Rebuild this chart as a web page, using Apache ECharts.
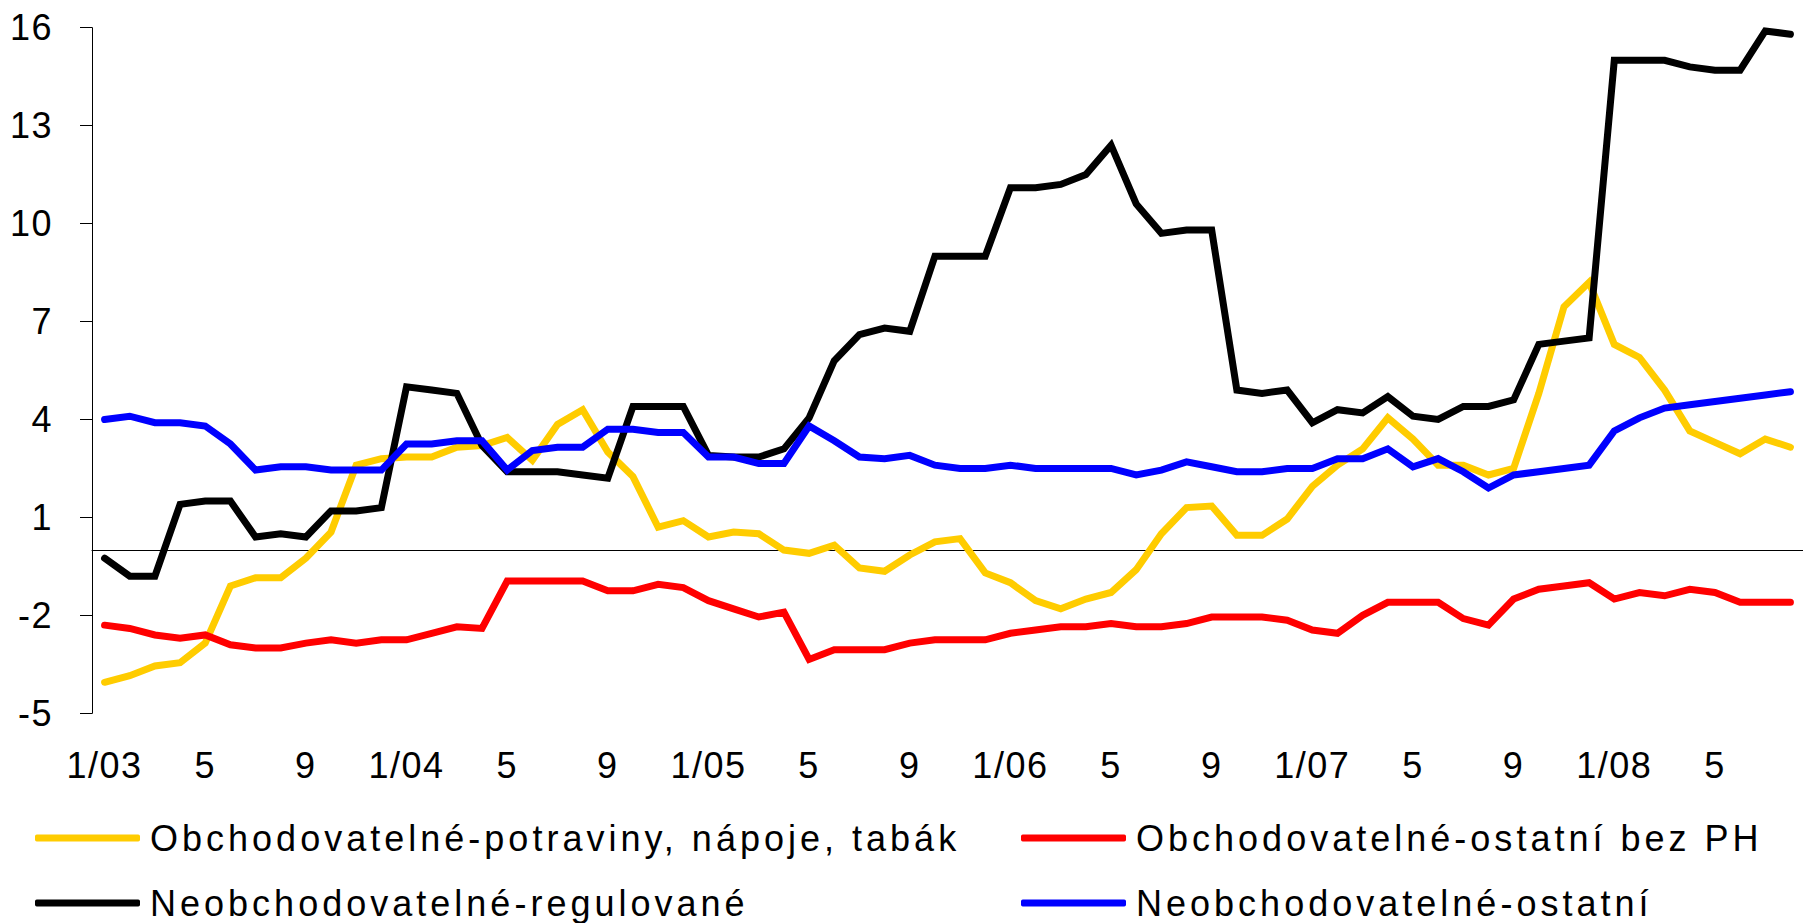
<!DOCTYPE html>
<html>
<head>
<meta charset="utf-8">
<script src="https://cdn.jsdelivr.net/npm/echarts@6/dist/echarts.min.js"></script>
<style id="dyn"></style>
<style>
html,body{margin:0;padding:0;background:#fff;}
#chart{width:1803px;height:923px;}
</style>
</head>
<body>
<div id="chart"></div>
<script>
const categories = [
"1/03","2/03","3/03","4/03","5/03","6/03","7/03","8/03","9/03","10/03","11/03","12/03",
"1/04","2/04","3/04","4/04","5/04","6/04","7/04","8/04","9/04","10/04","11/04","12/04",
"1/05","2/05","3/05","4/05","5/05","6/05","7/05","8/05","9/05","10/05","11/05","12/05",
"1/06","2/06","3/06","4/06","5/06","6/06","7/06","8/06","9/06","10/06","11/06","12/06",
"1/07","2/07","3/07","4/07","5/07","6/07","7/07","8/07","9/07","10/07","11/07","12/07",
"1/08","2/08","3/08","4/08","5/08","6/08","7/08","8/08"];

const seriesNames = [
"Obchodovatelné-potraviny, nápoje, tabák",
"Obchodovatelné-ostatní bez PH",
"Neobchodovatelné-regulované",
"Neobchodovatelné-ostatní"];

const potraviny = [
-4.05,-3.85,-3.55,-3.45,-2.85,-1.1,-0.85,-0.85,-0.25,0.55,2.6,2.8,
2.85,2.85,3.15,3.2,3.45,2.75,3.85,4.3,3.0,2.25,0.7,0.9,
0.4,0.55,0.5,0.0,-0.1,0.15,-0.55,-0.65,-0.15,0.25,0.35,-0.7,
-1.0,-1.55,-1.8,-1.5,-1.3,-0.6,0.5,1.3,1.35,0.45,0.45,0.95,
1.95,2.6,3.1,4.05,3.4,2.6,2.6,2.3,2.5,4.8,7.45,8.2,
6.3,5.9,4.9,3.65,3.3,2.95,3.4,3.15];

const ostatniBezPH = [
-2.3,-2.4,-2.6,-2.7,-2.6,-2.9,-3.0,-3.0,-2.85,-2.75,-2.85,-2.75,
-2.75,-2.55,-2.35,-2.4,-0.95,-0.95,-0.95,-0.95,-1.25,-1.25,-1.05,-1.15,
-1.55,-1.8,-2.05,-1.9,-3.35,-3.05,-3.05,-3.05,-2.85,-2.75,-2.75,-2.75,
-2.55,-2.45,-2.35,-2.35,-2.25,-2.35,-2.35,-2.25,-2.05,-2.05,-2.05,-2.15,
-2.45,-2.55,-2.0,-1.6,-1.6,-1.6,-2.1,-2.3,-1.5,-1.2,-1.1,-1.0,
-1.5,-1.3,-1.4,-1.2,-1.3,-1.6,-1.6,-1.6];

const regulovane = [
-0.25,-0.8,-0.8,1.4,1.5,1.5,0.4,0.5,0.4,1.2,1.2,1.3,
5.0,4.9,4.8,3.2,2.4,2.4,2.4,2.3,2.2,4.4,4.4,4.4,
2.9,2.85,2.85,3.1,4.05,5.8,6.6,6.8,6.7,9.0,9.0,9.0,
11.1,11.1,11.2,11.5,12.4,10.6,9.7,9.8,9.8,4.9,4.8,4.9,
3.9,4.3,4.2,4.7,4.1,4.0,4.4,4.4,4.6,6.3,6.4,6.5,
15.0,15.0,15.0,14.8,14.7,14.7,15.9,15.8];

const neobOstatni = [
4.0,4.1,3.9,3.9,3.8,3.25,2.45,2.55,2.55,2.45,2.45,2.45,
3.25,3.25,3.35,3.35,2.45,3.05,3.15,3.15,3.7,3.7,3.6,3.6,
2.85,2.85,2.65,2.65,3.8,3.35,2.85,2.8,2.9,2.6,2.5,2.5,
2.6,2.5,2.5,2.5,2.5,2.3,2.45,2.7,2.55,2.4,2.4,2.5,
2.5,2.8,2.8,3.1,2.55,2.8,2.4,1.9,2.3,2.4,2.5,2.6,
3.65,4.05,4.35,4.45,4.55,4.65,4.75,4.85];

const colors = ["#FFCC00", "#FF0000", "#000000", "#0000FF"];
const seriesData = [potraviny, ostatniBezPH, regulovane, neobOstatni];

// legend letter spacing (reference text is letter-spaced)
const LEG_FONT = 'LegendFont, "Liberation Sans", Arial, sans-serif';
(function(){
  const ctx = document.createElement('canvas').getContext('2d');
  ctx.font = '36px ' + LEG_FONT;
  const w = ctx.measureText(seriesNames[0]).width;
  const sp = Math.max(0, (806 - w) / (seriesNames[0].length - 1));
  document.getElementById('dyn').textContent =
    'text[style*="LegendFont"], text[font-family*="LegendFont"]{letter-spacing:' + sp.toFixed(2) + 'px;}' +
    'text[style*="AxisFont"], text[font-family*="AxisFont"]{letter-spacing:1.5px;}';
})();
const AX_FONT = 'AxisFont, "Liberation Sans", Arial, sans-serif';

const chart = echarts.init(document.getElementById('chart'), null, {renderer: 'svg'});

const legendPos = [
  {left: 35, top: 820},
  {left: 1021, top: 820},
  {left: 35, top: 885},
  {left: 1021, top: 885}
];

const option = {
  animation: false,
  backgroundColor: '#ffffff',
  grid: {left: 92, top: 27.7, width: 1715, height: 685.6, containLabel: false},
  legend: seriesNames.map((n, i) => ({
    data: [n],
    left: legendPos[i].left,
    top: legendPos[i].top,
    orient: 'horizontal',
    selectedMode: false,
    icon: 'roundRect',
    itemWidth: 105,
    itemHeight: 7,
    padding: 0,
    textStyle: {fontSize: 36, fontFamily: LEG_FONT, color: '#000', padding: [0, 0, 0, 5]}
  })),
  xAxis: [
    {
      type: 'category',
      data: categories,
      boundaryGap: true,
      position: 'bottom',
      axisLine: {show: false, onZero: false},
      axisTick: {show: false},
      splitLine: {show: false},
      axisLabel: {
        interval: 3,
        margin: 34,
        fontSize: 36,
        fontFamily: AX_FONT,
        color: '#000',
        formatter: function (v) {
          const p = v.split('/');
          return p[0] === '1' ? v : p[0];
        }
      }
    },
    {
      type: 'category',
      data: categories,
      boundaryGap: true,
      position: 'bottom',
      axisLine: {show: true, onZero: true, lineStyle: {color: '#000', width: 1}},
      axisTick: {show: false},
      axisLabel: {show: false},
      splitLine: {show: false}
    }
  ],
  yAxis: {
    type: 'value',
    min: -5,
    max: 16,
    interval: 3,
    axisLine: {show: true, lineStyle: {color: '#000', width: 1}},
    axisTick: {show: true, length: 12, lineStyle: {color: '#000', width: 1}},
    splitLine: {show: false},
    axisLabel: {fontSize: 36, fontFamily: AX_FONT, color: '#000', margin: 39}
  },
  series: seriesNames.map((n, i) => ({
    name: n,
    type: 'line',
    data: seriesData[i],
    xAxisIndex: 0,
    symbol: 'none',
    smooth: false,
    silent: true,
    color: colors[i],
    lineStyle: {color: colors[i], width: 7, cap: 'round', join: 'miter'},
    emphasis: {disabled: true}
  }))
};
chart.setOption(option);
</script>
</body>
</html>
